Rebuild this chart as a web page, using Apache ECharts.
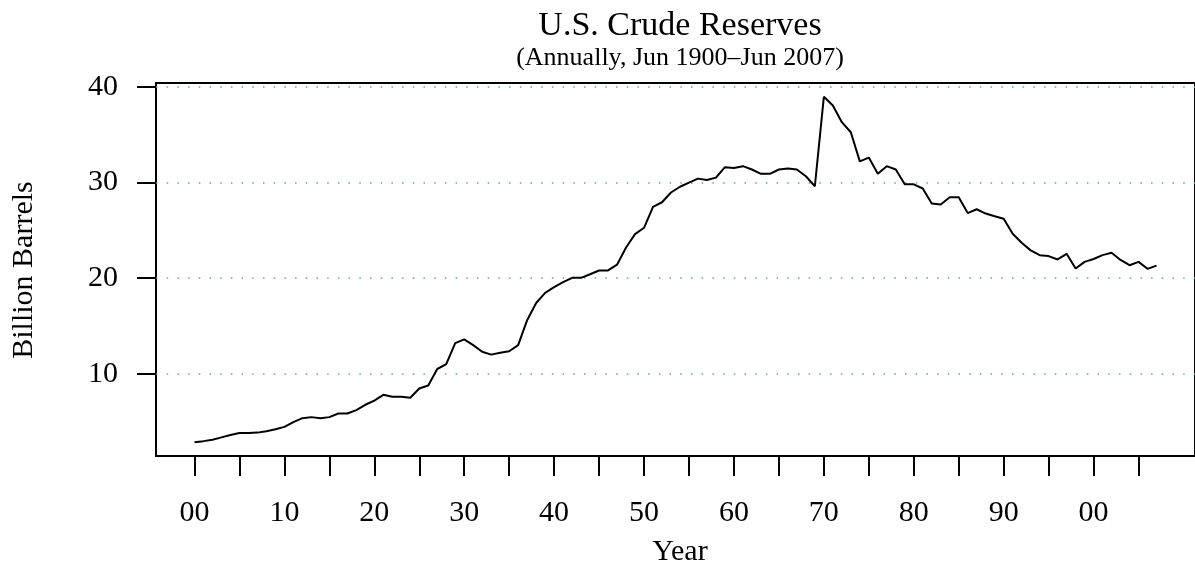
<!DOCTYPE html>
<html>
<head>
<meta charset="utf-8">
<script src="https://cdn.jsdelivr.net/npm/echarts@6/dist/echarts.min.js"></script>
<style>
html,body{margin:0;padding:0;background:#fff;}
#chart{width:1195px;height:584px;}
</style>
</head>
<body>
<div id="chart"></div>
<script>
// ---- data ----
const years = [];
for (let y = 1900; y <= 2007; y++) years.push(y);
const reserves = [
  2.85, 2.96, 3.1, 3.35, 3.6, 3.8, 3.8, 3.85, 4.0, 4.2,
  4.45, 4.95, 5.36, 5.47, 5.36, 5.47, 5.85, 5.85, 6.2, 6.76,
  7.2, 7.8, 7.6, 7.6, 7.5, 8.46, 8.78, 10.5, 11.0, 13.2,
  13.6, 13.0, 12.3, 12.0, 12.2, 12.36, 13.0, 15.6, 17.4, 18.46,
  19.05, 19.57, 20.03, 20.03, 20.4, 20.8, 20.8, 21.4, 23.2, 24.6,
  25.26, 27.45, 27.93, 28.95, 29.55, 29.98, 30.4, 30.25, 30.5, 31.6,
  31.5, 31.7, 31.35, 30.9, 30.9, 31.35, 31.45, 31.35, 30.65, 29.6,
  38.95, 38.04, 36.3, 35.25, 32.2, 32.6, 30.9, 31.7, 31.35, 29.8,
  29.8, 29.37, 27.8, 27.7, 28.45, 28.45, 26.8, 27.2, 26.75, 26.47,
  26.2, 24.63, 23.7, 22.9, 22.4, 22.3, 21.95, 22.54, 21.0, 21.7,
  22.0, 22.4, 22.65, 21.9, 21.35, 21.7, 20.97, 21.3
];
const xTickValues = [];
for (let y = 1900; y <= 2005; y += 5) xTickValues.push(y);
const xLabelValues = [1900, 1910, 1920, 1930, 1940, 1950, 1960, 1970, 1980, 1990, 2000];
const yTickValues = [10, 20, 30, 40];
const titleText = 'U.S. Crude Reserves';
const subtitleText = '(Annually, Jun 1900\u2013Jun 2007)';
const xName = 'Year';
const yName = 'Billion Barrels';

// ---- chart ----
const FONT = '"Liberation Serif", "Times New Roman", serif';
const chart = echarts.init(document.getElementById('chart'), null, {renderer: 'canvas'});
const xMin = 1900 - 0.04 * 107, xMax = 2007 + 0.04 * 107;
const yLo = Math.min(...reserves), yHi = Math.max(...reserves);
const yMin = yLo - 0.04 * (yHi - yLo), yMax = yHi + 0.04 * (yHi - yLo);

chart.setOption({
  animation: false,
  backgroundColor: '#fff',
  grid: {
    left: 156, top: 83, right: -9, bottom: 128,
    show: true, borderColor: '#000', borderWidth: 2, backgroundColor: 'transparent'
  },
  graphic: [
    {type: 'text', x: 680, y: 26, style: {text: titleText, font: '34px ' + FONT, fill: '#000', textAlign: 'center', textVerticalAlign: 'middle'}},
    {type: 'text', x: 680, y: 58, style: {text: subtitleText, font: '26px ' + FONT, fill: '#000', textAlign: 'center', textVerticalAlign: 'middle'}},
    {type: 'text', x: 680, y: 552, style: {text: xName, font: '30px ' + FONT, fill: '#000', textAlign: 'center', textVerticalAlign: 'middle'}},
    {type: 'text', x: 24, y: 270, rotation: Math.PI / 2, style: {text: yName, font: '30px ' + FONT, fill: '#000', textAlign: 'center', textVerticalAlign: 'middle'}}
  ],
  xAxis: {
    type: 'value', min: xMin, max: xMax,
    axisLine: {show: true, onZero: false, lineStyle: {color: '#000', width: 2}},
    axisTick: {show: true, customValues: xTickValues, length: 20, lineStyle: {color: '#000', width: 2}},
    axisLabel: {show: true, customValues: xLabelValues, margin: 42, color: '#000', fontFamily: FONT, fontSize: 30,
      formatter: v => String(Math.round(v) % 100).padStart(2, '0')},
    splitLine: {show: false}
  },
  yAxis: {
    type: 'value', min: yMin, max: yMax,
    axisLine: {show: true, onZero: false, lineStyle: {color: '#000', width: 2}},
    axisTick: {show: true, customValues: yTickValues, length: 19, lineStyle: {color: '#000', width: 2}},
    axisLabel: {show: true, customValues: yTickValues, margin: 38, color: '#000', fontFamily: FONT, fontSize: 30},
    splitLine: {show: false}
  },
  series: [{
    type: 'line',
    data: years.map((y, i) => [y, reserves[i]]),
    showSymbol: false,
    symbol: 'none',
    lineStyle: {color: '#000', width: 2},
    z: 3,
    markLine: {
      silent: true, symbol: 'none', label: {show: false},
      lineStyle: {color: '#6a9ea8', width: 1.5, type: [1.5, 9.2]},
      data: yTickValues.map(v => ({yAxis: v})),
      z: 1
    }
  }]
});
</script>
</body>
</html>
